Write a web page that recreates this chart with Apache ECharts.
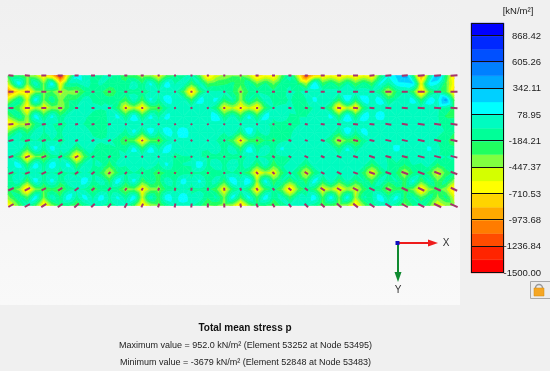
<!DOCTYPE html>
<html><head><meta charset="utf-8">
<style>html,body{margin:0;padding:0;background:#fff}#c{width:550px;height:376px}</style>
<script src="https://cdn.jsdelivr.net/npm/echarts@6/dist/echarts.min.js"></script>
</head><body><div id="c"></div>
<script>
// Legend
const legendMin = -1500, legendMax = 1000;
const tickLabels = [868.42,605.26,342.11,78.95,-184.21,-447.37,-710.53,-973.68,-1236.84,-1500];
// band colours, lowest band first
const bandColors = ['#ff0000','#ff2400','#ff4c00','#ff7c00','#ffaa00','#ffd400','#ffff00','#d4ff00','#80ff40','#20ff60','#00ff98','#00fcc0','#00ffff','#00d0ff','#00a8ff','#0080ff','#0050ff','#0028ff','#0000ff'];
// Stress at mesh nodes, kN/m2 (9 rows x 28 columns)
const nodeValues = [
[-280,-420,-740,-1400,150,-110,-30,-280,-420,-620,-220,-30,-780,-420,-350,-820,-740,-30,-1250,-740,-780,-740,-740,100,400,-1000,400,-740],
[-1100,-820,-380,-520,-400,-150,-280,-110,-150,-60,-30,-780,-30,-30,-400,-60,-150,-30,-30,-30,-30,-30,-40,-520,-60,-820,-110,-780],
[-110,-740,-620,-460,-40,-30,-20,-620,-700,-320,-10,-20,-20,-620,-700,-700,-50,-30,-130,-30,-780,-700,-20,-10,-30,-30,-30,-240],
[-780,-520,-60,-110,-20,-150,-40,-30,-20,-20,-30,-60,-10,-30,-40,-30,-110,-150,-20,-30,-40,-30,-40,-30,-30,-20,-30,-150],
[-60,-90,-110,-90,-20,-30,-30,-320,-700,-350,-10,-10,-10,-150,-650,-320,-220,-60,-30,-30,-520,-380,-10,-10,-10,-20,-60,-280],
[-30,-740,-380,-110,-720,-60,-150,-20,-30,-20,-110,-60,-110,-150,-110,-60,-150,-60,-30,-60,-40,-20,-30,-60,-60,-30,-40,-40],
[-110,-90,-130,-130,-90,-90,-520,-110,-110,-280,-220,-110,-220,-110,-150,-700,-620,-30,-560,-30,-60,-40,-620,-60,-460,-110,-560,-150],
[-220,-820,-350,-380,-60,-280,-180,-420,-700,-400,-110,-110,-150,-650,-60,-700,-150,-780,-150,-620,-680,-560,-110,-420,-280,-760,-280,-800],
[-700,-30,-760,-220,-350,-60,-150,-30,-750,-380,-30,-40,-350,-420,-820,-220,-350,-30,-60,-350,-420,-760,-150,-30,-380,-60,-620,-420]
];
// Stress at mesh cell centres, kN/m2 (8 rows x 27 columns)
const cellValues = [
[180,50,180,-50,30,-30,-100,30,110,150,50,20,-250,-150,-50,-150,-100,-200,200,-100,-50,-100,110,150,200,150,-300],
[-50,170,-80,-200,30,-80,-100,40,110,170,40,140,110,-30,-40,20,-80,-100,110,30,190,180,150,-30,140,170,400],
[-60,170,110,20,-30,-120,110,170,110,120,50,30,180,20,110,170,40,-60,30,110,200,180,150,50,20,40,-200],
[-30,20,-20,10,10,-100,20,110,150,170,190,40,20,50,180,30,-80,20,40,20,170,140,40,-20,-30,-20,-60],
[40,130,140,30,-40,-80,-60,130,150,180,40,-30,20,30,180,40,110,40,20,40,110,30,10,130,-40,110,-100],
[150,170,180,130,20,-40,-30,20,30,110,-50,170,40,30,30,20,-60,-20,40,20,10,-20,-30,-60,-50,-30,-80],
[30,150,130,30,170,40,180,130,-60,40,150,110,20,200,210,140,-40,-50,160,40,-20,-50,40,-30,110,-20,-100],
[-60,170,40,190,140,160,110,180,20,190,190,30,-20,150,130,180,30,40,170,160,150,-40,180,140,-30,-100,-150]
];
// Principal direction at each node, degrees clockwise from +X
const dirAngles = [
[3,3,2,2,2,0,0,0,0,0,0,0,0,0,0,0,0,0,0,0,-2,-2,-3,-4,-4,-5,-5,-5],
[0,0,0,0,0,0,0,0,0,0,0,0,0,0,0,0,0,0,0,0,0,0,0,0,0,0,0,0],
[0,0,0,-2,-3,-3,-3,-4,-5,-8,-8,-10,-10,0,5,5,5,5,5,5,5,5,5,5,5,5,5,5],
[-5,-6,-7,-8,-9,-10,-12,-14,-16,-20,-25,-30,-30,20,15,12,10,10,10,8,8,8,8,8,8,8,8,8],
[-10,-12,-14,-16,-18,-20,-22,-25,-30,-35,-40,-50,-60,40,30,25,20,18,16,14,14,12,12,12,12,12,12,12],
[-18,-20,-22,-24,-26,-30,-35,-40,-45,-50,-60,-70,-80,70,50,40,35,30,25,22,20,18,18,16,16,15,15,15],
[-20,-22,-25,-28,-32,-38,-42,-48,-55,-62,-70,-80,-85,80,65,50,42,38,32,28,25,22,20,20,20,20,20,20],
[-25,-26,-28,-32,-36,-42,-48,-55,-62,-70,-78,-85,-88,85,72,60,50,42,38,32,30,28,26,25,25,25,25,25],
[-30,-30,-33,-36,-40,-45,-52,-60,-65,-72,-78,-84,-88,88,80,68,58,52,46,42,40,38,35,32,30,28,26,25]
];
// Principal magnitude at each node
const dirMagnitudes = [
[5,5,5,5,4,4,3,3,3,2,2,2,2,2,2,3,3,3,3,4,4,5,5,6,6,7,7,7],
[5,5,5,4,3,3,3,3,2,2,2,2,2,2,2,2,3,3,3,4,4,5,5,6,6,7,7,7],
[5,5,5,4,3,3,3,2,2,2,2,2,2,2,2,2,2,3,3,4,4,5,5,6,6,7,7,7],
[5,5,4,4,3,3,3,2,2,2,2,2,2,2,2,2,2,3,3,4,4,5,5,6,6,7,7,7],
[5,5,4,4,3,3,3,2,2,2,2,2,2,2,2,2,2,3,3,4,4,5,5,6,6,7,7,7],
[5,5,5,4,4,3,3,2,2,2,2,2,2,2,2,2,3,3,4,4,5,5,6,6,6,7,7,7],
[5,5,5,5,4,4,3,3,2,2,2,2,2,2,2,3,3,3,4,4,5,5,6,6,7,7,7,7],
[6,6,5,5,5,4,4,3,3,3,3,3,3,3,3,3,3,4,4,5,5,6,6,6,7,7,7,7],
[6,6,6,6,6,5,5,5,4,4,4,4,4,4,4,4,4,4,5,5,6,6,6,7,7,7,8,8]
];

const nCols = nodeValues[0].length, nRows = nodeValues.length;
const leftEdge = -0.18;
const bandStep = (legendMax - legendMin) / bandColors.length;

function clipPoly(poly, limit, keepAbove) {
  const out = [];
  for (let i = 0; i < poly.length; i++) {
    const a = poly[i], b = poly[(i + 1) % poly.length];
    const ia = keepAbove ? a[2] >= limit : a[2] <= limit;
    const ib = keepAbove ? b[2] >= limit : b[2] <= limit;
    if (ia) out.push(a);
    if (ia !== ib) {
      const t = (limit - a[2]) / (b[2] - a[2]);
      out.push([a[0] + t * (b[0] - a[0]), a[1] + t * (b[1] - a[1]), limit]);
    }
  }
  return out;
}
function triangleBands(tri, children) {
  const vals = tri.map(p => p[2]);
  const vMin = Math.min(...vals), vMax = Math.max(...vals);
  bandColors.forEach((color, b) => {
    const lo = b === 0 ? -Infinity : legendMin + b * bandStep;
    const hi = b === bandColors.length - 1 ? Infinity : legendMin + (b + 1) * bandStep;
    if (vMax < lo || vMin > hi) return;
    let poly = tri;
    if (isFinite(lo)) poly = clipPoly(poly, lo, true);
    if (poly.length && isFinite(hi)) poly = clipPoly(poly, hi, false);
    if (poly.length < 3) return;
    children.push({
      type: 'polygon',
      shape: { points: poly.map(p => [p[0], p[1]]) },
      style: { fill: color, stroke: color, lineWidth: 0.6 }
    });
  });
}
const fieldData = [];
for (let r = 0; r < nRows - 1; r++) for (let c = 0; c < nCols - 1; c++) fieldData.push([c, r]);
const dirData = [];
for (let r = 0; r < nRows; r++) for (let c = 0; c < nCols; c++) dirData.push([c, r, dirAngles[r][c], dirMagnitudes[r][c]]);

// value of the contour surface halfway along a mesh edge
function edgeMid(a, b, m1, m2) {
  return m2 === undefined ? 0.4 * (a + b) + 0.2 * m1 : 0.36 * (a + b) + 0.14 * (m1 + m2);
}
function cellAt(r, c) { const row = cellValues[r]; return row ? row[c] : undefined; }
function renderField(params, api) {
  const c = api.value(0), r = api.value(1);
  const pt = (cc, rr, v) => { const p = api.coord([cc === 0 ? leftEdge : cc, rr]); return [p[0], p[1], v]; };
  const vTL = nodeValues[r][c], vTR = nodeValues[r][c + 1], vBL = nodeValues[r + 1][c], vBR = nodeValues[r + 1][c + 1];
  const vM = cellValues[r][c];
  const tl = pt(c, r, vTL), tr = pt(c + 1, r, vTR), bl = pt(c, r + 1, vBL), br = pt(c + 1, r + 1, vBR);
  const m = pt(c + 0.5, r + 0.5, vM);
  const mT = pt(c + 0.5, r, edgeMid(vTL, vTR, vM, cellAt(r - 1, c)));
  const mB = pt(c + 0.5, r + 1, edgeMid(vBL, vBR, vM, cellAt(r + 1, c)));
  const mL = pt(c, r + 0.5, edgeMid(vTL, vBL, vM, cellAt(r, c - 1)));
  const mR = pt(c + 1, r + 0.5, edgeMid(vTR, vBR, vM, cellAt(r, c + 1)));
  const children = [];
  [[tl, mT, m], [mT, tr, m], [tr, mR, m], [mR, br, m], [br, mB, m], [mB, bl, m], [bl, mL, m], [mL, tl, m]]
    .forEach(t => triangleBands(t, children));
  return { type: 'group', children };
}
function renderDir(params, api) {
  const p = api.coord([api.value(0), api.value(1)]);
  const a = api.value(2) * Math.PI / 180, h = api.value(3) / 2;
  return { type: 'line',
    shape: { x1: p[0] - h * Math.cos(a), y1: p[1] - h * Math.sin(a), x2: p[0] + h * Math.cos(a), y2: p[1] + h * Math.sin(a) },
    style: { stroke: '#a5346c', lineWidth: 2 } };
}
function renderBand(params, api) {
  const b = api.value(0);
  const p0 = api.coord([0, legendMin + b * bandStep]), p1 = api.coord([1, legendMin + (b + 1) * bandStep]);
  return { type: 'rect', shape: { x: p0[0], y: p1[1], width: p1[0] - p0[0], height: p0[1] - p1[1] },
    style: { fill: bandColors[b], stroke: bandColors[b], lineWidth: 0.4 } };
}
function renderLegendLine(params, api) {
  const p0 = api.coord([0, api.value(0)]), p1 = api.coord([1, api.value(0)]);
  const y = Math.round(p0[1]) - 0.5;
  return { type: 'line', shape: { x1: p0[0], y1: y, x2: p1[0], y2: y }, style: { stroke: '#111', lineWidth: 1 } };
}
const textFont = '"Liberation Sans", sans-serif';
const txt = (text, x, y, size, weight, color) => ({ text, left: x, top: y, padding: 0, textAlign: 'center', textVerticalAlign: 'middle',
  textStyle: { fontFamily: textFont, fontSize: size, fontWeight: weight || 'normal', color: color || '#222' } });

const chart = echarts.init(document.getElementById('c'), null, { renderer: 'canvas' });
chart.setOption({
  animation: false,
  backgroundColor: '#ffffff',
  title: [
    txt('Total mean stress p', 245, 328, 10, 'bold', '#111'),
    txt('Maximum value = 952.0 kN/m\u00b2 (Element 53252 at Node 53495)', 245.5, 346, 9),
    txt('Minimum value = -3679 kN/m\u00b2 (Element 52848 at Node 53483)', 245.5, 363, 9),
    txt('[kN/m\u00b2]', 518, 11, 9.5),
    txt('X', 446, 243, 10, 'normal', '#333'),
    txt('Y', 398, 290, 10, 'normal', '#333')
  ],
  grid: [
    { left: 8, top: 75.5, width: 446, height: 130 },
    { left: 471, top: 23, width: 33, height: 250 }
  ],
  xAxis: [
    { type: 'value', gridIndex: 0, min: leftEdge, max: nCols - 1, show: false },
    { type: 'value', gridIndex: 1, min: 0, max: 1, show: false }
  ],
  yAxis: [
    { type: 'value', gridIndex: 0, min: 0, max: nRows - 1, inverse: true, show: false },
    { type: 'value', gridIndex: 1, min: legendMin, max: legendMax, position: 'right',
      splitLine: { show: false },
      axisLine: { show: false },
      axisTick: { show: false },
      axisLabel: { show: true, customValues: tickLabels, align: 'right', margin: 37,
        fontFamily: textFont, fontSize: 9.5, color: '#222', formatter: v => Number(v).toFixed(2) } }
  ],
  series: [
    { type: 'custom', xAxisIndex: 0, yAxisIndex: 0, data: fieldData, renderItem: renderField, silent: true, z: 2 },
    { type: 'custom', xAxisIndex: 0, yAxisIndex: 0, data: dirData, renderItem: renderDir, silent: true, z: 3 },
    { type: 'custom', xAxisIndex: 1, yAxisIndex: 1, data: bandColors.map((_, i) => [i]), renderItem: renderBand, silent: true, z: 2 },
    { type: 'custom', xAxisIndex: 1, yAxisIndex: 1, data: tickLabels.map(v => [v]), renderItem: renderLegendLine, silent: true, z: 3 }
  ],
  graphic: { elements: [
    { type: 'rect', z: -10, shape: { x: 0, y: 0, width: 550, height: 305 },
      style: { fill: { type: 'linear', x: 0, y: 0, x2: 0, y2: 1, colorStops: [{ offset: 0, color: '#f0f0f0' }, { offset: 1, color: '#f9f9f9' }] } } },
    { type: 'rect', z: -9, shape: { x: 460, y: 0, width: 90, height: 305 }, style: { fill: '#f0f0f0' } },
    { type: 'rect', z: -9, shape: { x: 0, y: 305, width: 550, height: 66 }, style: { fill: '#f0f0f0' } },
    { type: 'rect', z: 20, shape: { x: 471.5, y: 23.5, width: 32, height: 249 }, style: { fill: 'none', stroke: '#111', lineWidth: 1 } },
    // orientation triad
    { type: 'line', z: 20, shape: { x1: 398, y1: 243, x2: 428, y2: 243 }, style: { stroke: '#ee1c1c', lineWidth: 2 } },
    { type: 'polygon', z: 20, shape: { points: [[428, 239.5], [438, 243], [428, 246.5]] }, style: { fill: '#ee1c1c' } },
    { type: 'line', z: 20, shape: { x1: 398, y1: 243, x2: 398, y2: 272 }, style: { stroke: '#108a30', lineWidth: 2 } },
    { type: 'polygon', z: 20, shape: { points: [[394.5, 272], [398, 282], [401.5, 272]] }, style: { fill: '#108a30' } },
    { type: 'rect', z: 21, shape: { x: 395.5, y: 241, width: 4, height: 4 }, style: { fill: '#1010c0' } },
    // lock button
    { type: 'rect', z: 20, shape: { x: 530.5, y: 281.5, width: 20, height: 17 }, style: { fill: '#ececec', stroke: '#a8a8a8', lineWidth: 1 } },
    { type: 'arc', z: 21, shape: { cx: 539, cy: 288, r: 3.5, startAngle: Math.PI, endAngle: 0 }, style: { fill: 'none', stroke: '#999', lineWidth: 1.5 } },
    { type: 'rect', z: 21, shape: { x: 534, y: 288, width: 10, height: 8 }, style: { fill: '#f5a623', stroke: '#d08a10', lineWidth: 0.5 } }
  ] }
});
</script></body></html>
